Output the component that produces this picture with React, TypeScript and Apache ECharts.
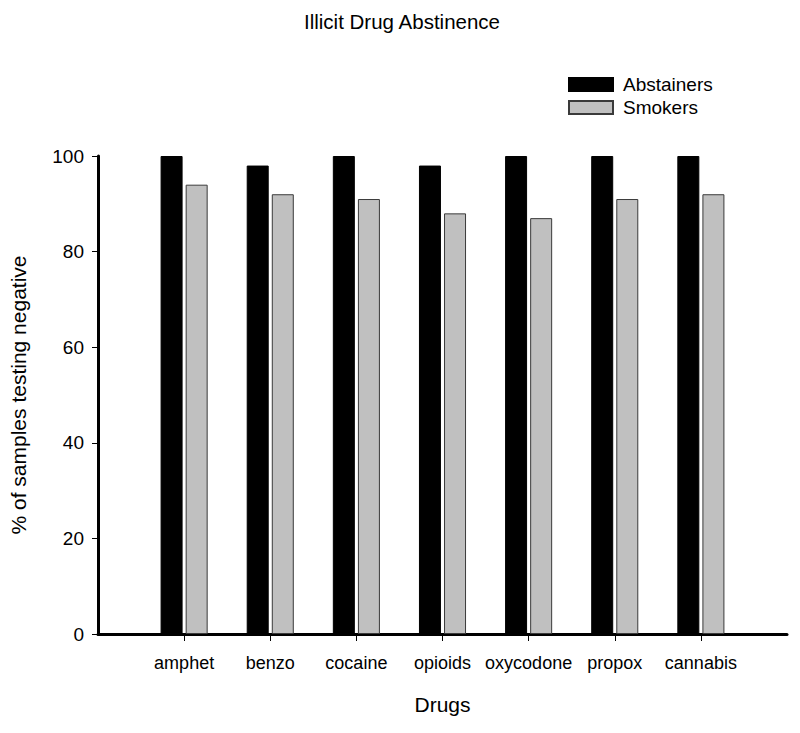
import React, { useEffect, useRef } from "react";
import * as echarts from "echarts";

const categories = ["", "amphet", "benzo", "cocaine", "opioids", "oxycodone", "propox", "cannabis", ""];
const abstainers = [null, 100, 98, 100, 98, 100, 100, 100, null];
const smokers = [null, 94, 92, 91, 88, 87, 91, 92, null];
const yTicks = [0, 20, 40, 60, 80, 100];

const FONT = "Liberation Sans, Arial, sans-serif";

export default function App() {
  const ref = useRef<HTMLDivElement>(null);
  useEffect(() => {
    if (!ref.current) return;
    const chart = echarts.init(ref.current, undefined, { renderer: "svg" });
    chart.setOption({
      animation: false,
      backgroundColor: "#ffffff",
      textStyle: { fontFamily: FONT },
      title: {
        text: "Illicit Drug Abstinence",
        left: 397,
        top: 6,
        textAlign: "center",
        textStyle: { fontFamily: FONT, fontSize: 20.5, fontWeight: "normal", color: "#000" },
      },
      legend: {
        orient: "vertical",
        left: 563,
        top: 70,
        icon: "rect",
        itemWidth: 44,
        itemHeight: 13,
        itemGap: 4,
        textStyle: { fontFamily: FONT, fontSize: 19, color: "#000", padding: [0, 0, 0, 5] },
        data: ["Abstainers", "Smokers"],
      },
      grid: { left: 98, right: 13, top: 156, bottom: 99, containLabel: false },
      xAxis: {
        type: "category",
        data: categories,
        boundaryGap: false,
        name: "Drugs",
        nameLocation: "middle",
        nameGap: 60,
        nameTextStyle: { fontFamily: FONT, fontSize: 21, color: "#000" },
        axisLine: { lineStyle: { color: "#000", width: 3 } },
        axisTick: {
          length: 7,
          interval: (i: number, v: string) => v !== "",
          lineStyle: { color: "#000", width: 1 },
        },
        axisLabel: {
          interval: (i: number, v: string) => v !== "",
          margin: 20,
          fontFamily: FONT,
          fontSize: 18,
          color: "#000",
        },
        splitLine: { show: false },
      },
      yAxis: {
        type: "value",
        min: 0,
        max: 100,
        interval: 20,
        name: "% of samples testing negative",
        nameLocation: "middle",
        nameGap: 69,
        nameTextStyle: { fontFamily: FONT, fontSize: 21, color: "#000" },
        axisLine: { show: true, lineStyle: { color: "#000", width: 3 } },
        axisTick: { show: true, length: 6, lineStyle: { color: "#000", width: 1 } },
        axisLabel: {
          margin: 14,
          fontFamily: FONT,
          fontSize: 19,
          color: "#000",
          formatter: (v: number) => (yTicks.includes(v) ? String(v) : ""),
        },
        splitLine: { show: false },
      },
      series: [
        {
          name: "Abstainers",
          type: "bar",
          data: abstainers,
          barWidth: 22,
          barGap: "14%",
          itemStyle: { color: "#000000", borderColor: "#000000", borderWidth: 1 },
        },
        {
          name: "Smokers",
          type: "bar",
          data: smokers,
          barWidth: 22,
          itemStyle: { color: "#c0c0c0", borderColor: "#3a3a3a", borderWidth: 1 },
        },
      ],
    });
    return () => chart.dispose();
  }, []);
  return (
    <div
      ref={ref}
      style={{ position: "absolute", left: 0, top: 0, width: 800, height: 733 }}
    />
  );
}
